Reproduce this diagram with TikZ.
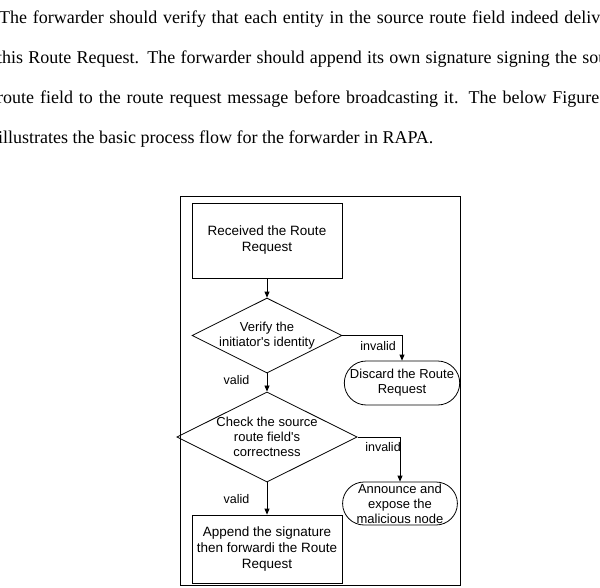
\documentclass[tikz,border=0pt]{standalone}
\usepackage{fontspec}
\setmainfont{Liberation Serif}
\newfontfamily\flowfont{Liberation Sans}
\usetikzlibrary{shapes.geometric,shapes.misc,arrows.meta}
\tikzset{
  textline/.style={anchor=base west, inner sep=0pt, font=\fontsize{18}{20}\selectfont},
  process/.style={draw, thick, inner sep=2pt, align=center, font=\flowfont\fontsize{13.5}{16}\selectfont},
  decision/.style={draw, thick, diamond, aspect=2, inner sep=0pt, align=center, font=\flowfont\fontsize{13}{15}\selectfont},
  terminal/.style={draw, thick, rounded rectangle, inner sep=1pt, align=center, font=\flowfont\fontsize{13}{15}\selectfont},
  flow/.style={thick, -{Triangle[length=6pt,width=5pt]}},
  tag/.style={font=\flowfont\fontsize{12.5}{14}\selectfont}
}
\newcommand{\fullline}[1]{\makebox[632pt][s]{#1}}
\begin{document}
\begin{tikzpicture}[x=1pt,y=-1pt]
        \useasboundingbox (0,0) rectangle (600,587);
        \clip (0,0) rectangle (600,587);
        % Text
        \node[textline] (l1) at (-1,23) {\fullline{The forwarder should verify that each entity in the source route field indeed delivered}};
        \node[textline] (l2) at (-3,63) {\fullline{this Route Request. The forwarder should append its own signature signing the source}};
        \node[textline] (l3) at (-3,103) {\fullline{route field to the route request message before broadcasting it. The below Figure 3-1}};
        \node[textline] (l4) at (-2,143) {illustrates the basic process flow for the forwarder in RAPA.};
        % Frame
        \draw[thick] (180,196) rectangle (460,585);
        % Nodes
        \node[process, minimum width=150pt, minimum height=75pt] (recv) at (267,240.5) {Received the Route\\Request};
        \node[decision, minimum width=136pt, minimum height=69pt] (verify) at (267,335.5) {Verify the\\initiator's identity};
        \node[terminal, minimum width=112pt, minimum height=44pt] (discard) at (402,383) {Discard the Route\\Request};
        \node[decision, minimum width=150pt, minimum height=74pt] (check) at (267,437) {Check the source\\route field's\\correctness};
        \node[terminal, minimum width=110pt, minimum height=43pt] (announce) at (400,503.5) {Announce and\\expose the\\malicious node};
        \node[process, minimum width=150pt, minimum height=68pt] (append) at (267,549) {Append the signature\\then forwardi the Route\\Request};
        % Edges
        \draw[flow] (recv) -- (verify);
        \draw[flow] (verify) -- node[tag, pos=0.35, left=14pt] {valid} (check);
        \draw[flow] (check) -- node[tag, pos=0.5, left=14pt] {valid} (append);
        \draw[flow] (verify.east) -| node[tag, pos=0.3, below=2pt] {invalid} (discard.north);
        \draw[flow] (check.east) -| node[tag, pos=0.3, below=2pt] {invalid} (announce.north);
\end{tikzpicture}
\end{document}
